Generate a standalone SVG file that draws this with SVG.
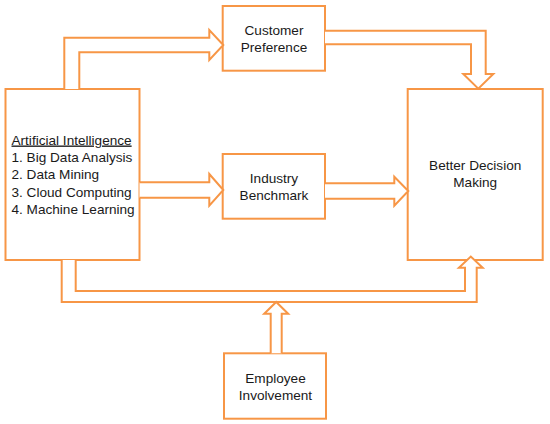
<svg xmlns="http://www.w3.org/2000/svg" width="550" height="424" viewBox="0 0 550 424">
<style>
.box{fill:#fff;stroke:#F79646;stroke-width:2}
.arr{fill:#fff;stroke:#F79646;stroke-width:2;stroke-linejoin:miter}
text{font-family:"Liberation Sans",Arial,sans-serif;font-size:13.6px;fill:#1a1a1a}
.c{text-anchor:middle}
</style>
<rect width="550" height="424" fill="#fff"/>
<g id="ai">
<rect class="box" x="5.5" y="89" width="134" height="171"/>
<text x="11.5" y="144.5" text-decoration="underline">Artificial Intelligence</text>
<text x="11.5" y="162">1. Big Data Analysis</text>
<text x="11.5" y="179.3">2. Data Mining</text>
<text x="11.5" y="196.7">3. Cloud Computing</text>
<text x="11.5" y="214">4. Machine Learning</text>
</g>
<g id="customer-preference">
<rect class="box" x="222.7" y="6" width="102.3" height="64.7"/>
<text class="c" x="274" y="35">Customer</text>
<text class="c" x="274" y="52">Preference</text>
</g>
<g id="industry-benchmark">
<rect class="box" x="222.7" y="154" width="102.3" height="64.7"/>
<text class="c" x="274" y="183.3">Industry</text>
<text class="c" x="274" y="200">Benchmark</text>
</g>
<g id="better-decision-making">
<rect class="box" x="407.7" y="89" width="135" height="171"/>
<text class="c" x="475.2" y="170">Better Decision</text>
<text class="c" x="475.2" y="186.7">Making</text>
</g>
<g id="employee-involvement">
<rect class="box" x="224" y="353.3" width="102" height="65.4"/>
<text class="c" x="275.5" y="383.3">Employee</text>
<text class="c" x="275.5" y="400">Involvement</text>
</g>
<g id="connectors">
<path class="arr" d="M64.3,89 V37.7 H209.3 V30 L223.3,45 L209.3,60 V52.3 H79.3 V89"/>
<path class="arr" d="M139.5,182.3 H209.3 V174 L223.3,190 L209.3,205.7 V197.7 H139.5"/>
<path class="arr" d="M325,30.7 H485.7 V74 H493.3 L478.3,88.7 L463.3,74 H471 V44.3 H325"/>
<path class="arr" d="M325,183.3 H394.3 V176.7 L408.3,191 L394.3,205.7 V198.7 H325"/>
<path class="arr" d="M61.7,260 V302 H476.7 V267.7 H482.7 L470.8,256.5 L458.9,267.7 H465 V291 H75.7 V260"/>
<path class="arr" d="M270.7,353.3 V313.7 H264.2 L276.2,302 L288.2,313.7 H281.7 V353.3"/>
</g>
</svg>
